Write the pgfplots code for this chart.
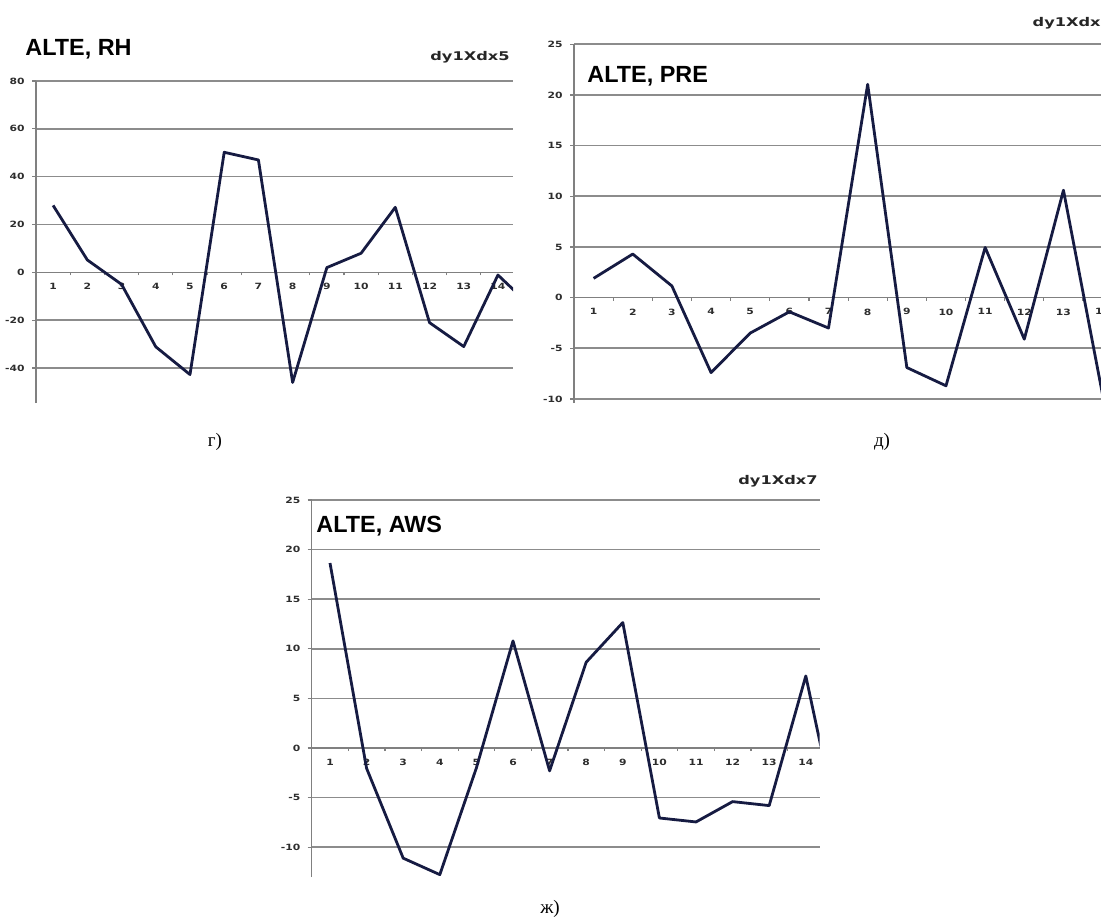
\documentclass[border=0pt]{standalone}
\usepackage{pgfplots}
\pgfplotsset{compat=1.18}
\usepackage{fontspec}
\setmainfont{Liberation Serif}
\newfontfamily\titlefont{Liberation Sans}
\newfontfamily\tickfont[FakeStretch=1.25]{DejaVu Sans}
\newfontfamily\codefont[FakeStretch=1.35]{DejaVu Sans}

\definecolor{series}{RGB}{22,27,66}
\definecolor{gridc}{RGB}{140,140,140}
\definecolor{axisc}{RGB}{128,128,128}
\definecolor{labc}{RGB}{45,45,45}

\pgfplotsset{
  panel/.style={
    scale only axis,
    axis x line=middle, axis y line=left,
    axis line style={-, draw=axisc, line width=0.7pt},
    hide obscured x ticks=false, hide obscured y ticks=false,
    xtick={1,...,14},
    minor xtick={1.5,2.5,...,14.5},
    major x tick style={draw=none},
    minor x tick style={draw=axisc, line width=0.6pt},
    major y tick style={draw=axisc, line width=0.6pt},
    xtick align=outside, ytick align=outside,
    major tick length=2pt, minor tick length=1.5pt,
    ymajorgrids,
    major y grid style={draw=gridc, line width=0.8pt},
    tick label style={font=\tickfont\bfseries\fontsize{4.3}{5}\selectfont, text=labc},
    xticklabel style={anchor=north, inner sep=0pt, yshift=-3.3pt},
    yticklabel style={anchor=east, inner sep=0pt, xshift=-3.5pt},
    /pgf/number format/assume math mode=true,
  },
  trace/.style={draw=series, line width=1.4pt, line join=round, no markers},
}

\begin{document}
\begin{tikzpicture}
\useasboundingbox (0,0) rectangle (550.5pt,-461pt);

% relative humidity
\begin{axis}[panel,
  at={(18pt,-201.5pt)}, anchor=south west,
  width=238.5pt, height=161pt,
  xmin=0.5, xmax=14.44, ymin=-54.6, ymax=80,
  ytick={-40,-20,0,20,40,60,80}]
\addplot[trace] coordinates {
  (1,28) (2,5.2) (3,-5) (4,-31.1) (5,-42.7) (6,50.2) (7,47) (8,-46)
  (9,2) (10,8) (11,27.2) (12,-21) (13,-31) (14,-1.1) (15,-14.7)};
\end{axis}

% precipitation
\begin{axis}[panel,
  at={(287pt,-201.5pt)}, anchor=south west,
  width=264.3pt, height=179.35pt,
  xmin=0.5, xmax=14, ymin=-10.4, ymax=25,
  ytick={-10,-5,0,5,10,15,20,25}]
\addplot[trace] coordinates {
  (1,1.9) (2,4.3) (3,1.15) (4,-7.4) (5,-3.5) (6,-1.4) (7,-3.0) (8,21.05)
  (9,-6.9) (10,-8.7) (11,4.95) (12,-4.1) (13,10.6) (14,-9.6)};
\end{axis}

% wind speed
\begin{axis}[panel,
  at={(155.85pt,-438.5pt)}, anchor=south west,
  width=254pt, height=188.5pt,
  xmin=0.5, xmax=14.38, ymin=-13, ymax=25,
  ytick={-10,-5,0,5,10,15,20,25}]
\addplot[trace] coordinates {
  (1,18.65) (2,-2.05) (3,-11.1) (4,-12.76) (5,-2) (6,10.8) (7,-2.3) (8,8.65)
  (9,12.65) (10,-7.05) (11,-7.45) (12,-5.4) (13,-5.8) (14,7.27) (15,-10)};
\end{axis}

% panel titles
\node[anchor=base west, inner sep=0pt, font=\titlefont\bfseries\fontsize{11.7}{14}\selectfont] at (12.5pt,-27.5pt) {ALTE, RH};
\node[anchor=base west, inner sep=0pt, font=\titlefont\bfseries\fontsize{11.7}{14}\selectfont] at (293.5pt,-41.3pt) {ALTE, PRE};
\node[anchor=base west, inner sep=0pt, font=\titlefont\bfseries\fontsize{11.7}{14}\selectfont] at (158pt,-266.3pt) {ALTE, AWS};

\node[anchor=base east, inner sep=0pt, text=black!85, font=\codefont\bfseries\fontsize{6}{7}\selectfont] at (255pt,-30.3pt) {dy1Xdx5};
\node[anchor=base east, inner sep=0pt, text=black!85, font=\codefont\bfseries\fontsize{6}{7}\selectfont] at (550.5pt,-13.3pt) {dy1Xdx};
\node[anchor=base east, inner sep=0pt, text=black!85, font=\codefont\bfseries\fontsize{6}{7}\selectfont] at (409pt,-242pt) {dy1Xdx7};

% captions
\node[inner sep=0pt, font=\fontsize{9.5}{11}\selectfont] at (107.5pt,-221pt) {г)};
\node[inner sep=0pt, font=\fontsize{9.5}{11}\selectfont] at (441pt,-221pt) {д)};
\node[inner sep=0pt, font=\fontsize{9.5}{11}\selectfont] at (275pt,-454.5pt) {ж)};
\end{tikzpicture}
\end{document}
